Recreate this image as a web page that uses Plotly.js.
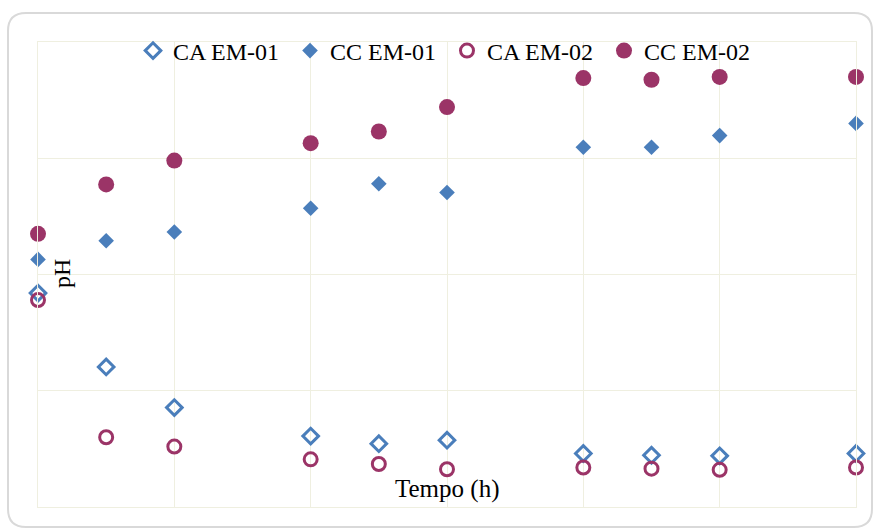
<!DOCTYPE html>
<html>
<head>
<meta charset="utf-8">
<script src="https://cdn.plot.ly/plotly-3.0.1.min.js"></script>
<style>html,body{margin:0;padding:0;background:#fff;}#chart{width:875px;height:531px;}</style>
</head>
<body>
<div id="chart"></div>
<script>
// Tempo (h)
const tempo = [0, 1, 2, 4, 5, 6, 8, 9, 10, 12];
// pH values (axis has no printed tick labels)
const caEm01 = [7.68, 6.41, 5.71, 5.22, 5.09, 5.15, 4.92, 4.89, 4.88, 4.92];
const ccEm01 = [8.26, 8.58, 8.73, 9.14, 9.56, 9.41, 10.19, 10.19, 10.39, 10.60];
const caEm02 = [7.56, 5.20, 5.04, 4.82, 4.74, 4.65, 4.68, 4.66, 4.64, 4.68];
const ccEm02 = [8.70, 9.55, 9.96, 10.26, 10.46, 10.88, 11.38, 11.35, 11.40, 11.40];
const seriesNames = ['CA EM-01', 'CC EM-01', 'CA EM-02', 'CC EM-02'];

const blue = '#4a7ebb';
const purple = '#9b3467';
const serif = '"Liberation Serif", "Times New Roman", serif';

const traces = [
  {x: tempo, y: caEm01, name: seriesNames[0], mode: 'markers', type: 'scatter', cliponaxis: false,
   marker: {symbol: 'diamond-open', size: 12, color: blue, line: {width: 3, color: blue}}},
  {x: tempo, y: ccEm01, name: seriesNames[1], mode: 'markers', type: 'scatter', cliponaxis: false,
   marker: {symbol: 'diamond', size: 12, color: blue}},
  {x: tempo, y: caEm02, name: seriesNames[2], mode: 'markers', type: 'scatter', cliponaxis: false,
   marker: {symbol: 'circle-open', size: 13, color: purple, line: {width: 3, color: purple}}},
  {x: tempo, y: ccEm02, name: seriesNames[3], mode: 'markers', type: 'scatter', cliponaxis: false,
   marker: {symbol: 'circle', size: 16, color: purple}}
];

const W = 875, H = 531;
const m = {l: 38, r: 19, t: 42, b: 24};
const pw = W - m.l - m.r, ph = H - m.t - m.b;
const px = v => (v - m.l) / pw;
const py = v => (H - m.b - v) / ph;

// rounded frame around the chart
const L = 8, T = 13, R = 872, B = 527, rad = 18;
const framePath =
  `M ${px(L + rad)} ${py(T)} L ${px(R - rad)} ${py(T)} Q ${px(R)} ${py(T)} ${px(R)} ${py(T + rad)} ` +
  `L ${px(R)} ${py(B - rad)} Q ${px(R)} ${py(B)} ${px(R - rad)} ${py(B)} ` +
  `L ${px(L + rad)} ${py(B)} Q ${px(L)} ${py(B)} ${px(L)} ${py(B - rad)} ` +
  `L ${px(L)} ${py(T + rad)} Q ${px(L)} ${py(T)} ${px(L + rad)} ${py(T)} Z`;

const gridColor = '#efefe0';

const layout = {
  width: W, height: H,
  margin: m,
  paper_bgcolor: '#ffffff',
  plot_bgcolor: '#ffffff',
  showlegend: true,
  legend: {
    orientation: 'h', x: 0.5, xanchor: 'center', y: py(51), yanchor: 'middle',
    bgcolor: 'rgba(0,0,0,0)', font: {family: serif, size: 24, color: '#000'},
    entrywidth: 112, entrywidthmode: 'pixels', itemclick: false
  },
  xaxis: {
    range: [0, 12], dtick: 2, tick0: 0, showticklabels: false, ticks: '',
    showgrid: true, gridcolor: gridColor, gridwidth: 1,
    showline: true, linecolor: gridColor, mirror: true, zeroline: false
  },
  yaxis: {
    range: [4, 12], dtick: 2, tick0: 4, showticklabels: false, ticks: '',
    showgrid: true, gridcolor: gridColor, gridwidth: 1,
    showline: true, linecolor: gridColor, mirror: true, zeroline: false
  },
  annotations: [
    {text: 'Tempo (h)', xref: 'paper', yref: 'paper', x: px(447), y: py(489), xanchor: 'center', yanchor: 'middle',
     showarrow: false, font: {family: serif, size: 25, color: '#000'}},
    {text: 'pH', xref: 'paper', yref: 'paper', x: px(62), y: py(274), xanchor: 'center', yanchor: 'middle',
     textangle: -90, showarrow: false, font: {family: serif, size: 24, color: '#000'}}
  ],
  shapes: [
    {type: 'path', xref: 'paper', yref: 'paper', path: framePath, layer: 'below',
     line: {color: '#d9d9d9', width: 2}, fillcolor: 'rgba(0,0,0,0)'}
  ]
};

Plotly.newPlot('chart', traces, layout, {displayModeBar: false, staticPlot: true});
</script>
</body>
</html>
